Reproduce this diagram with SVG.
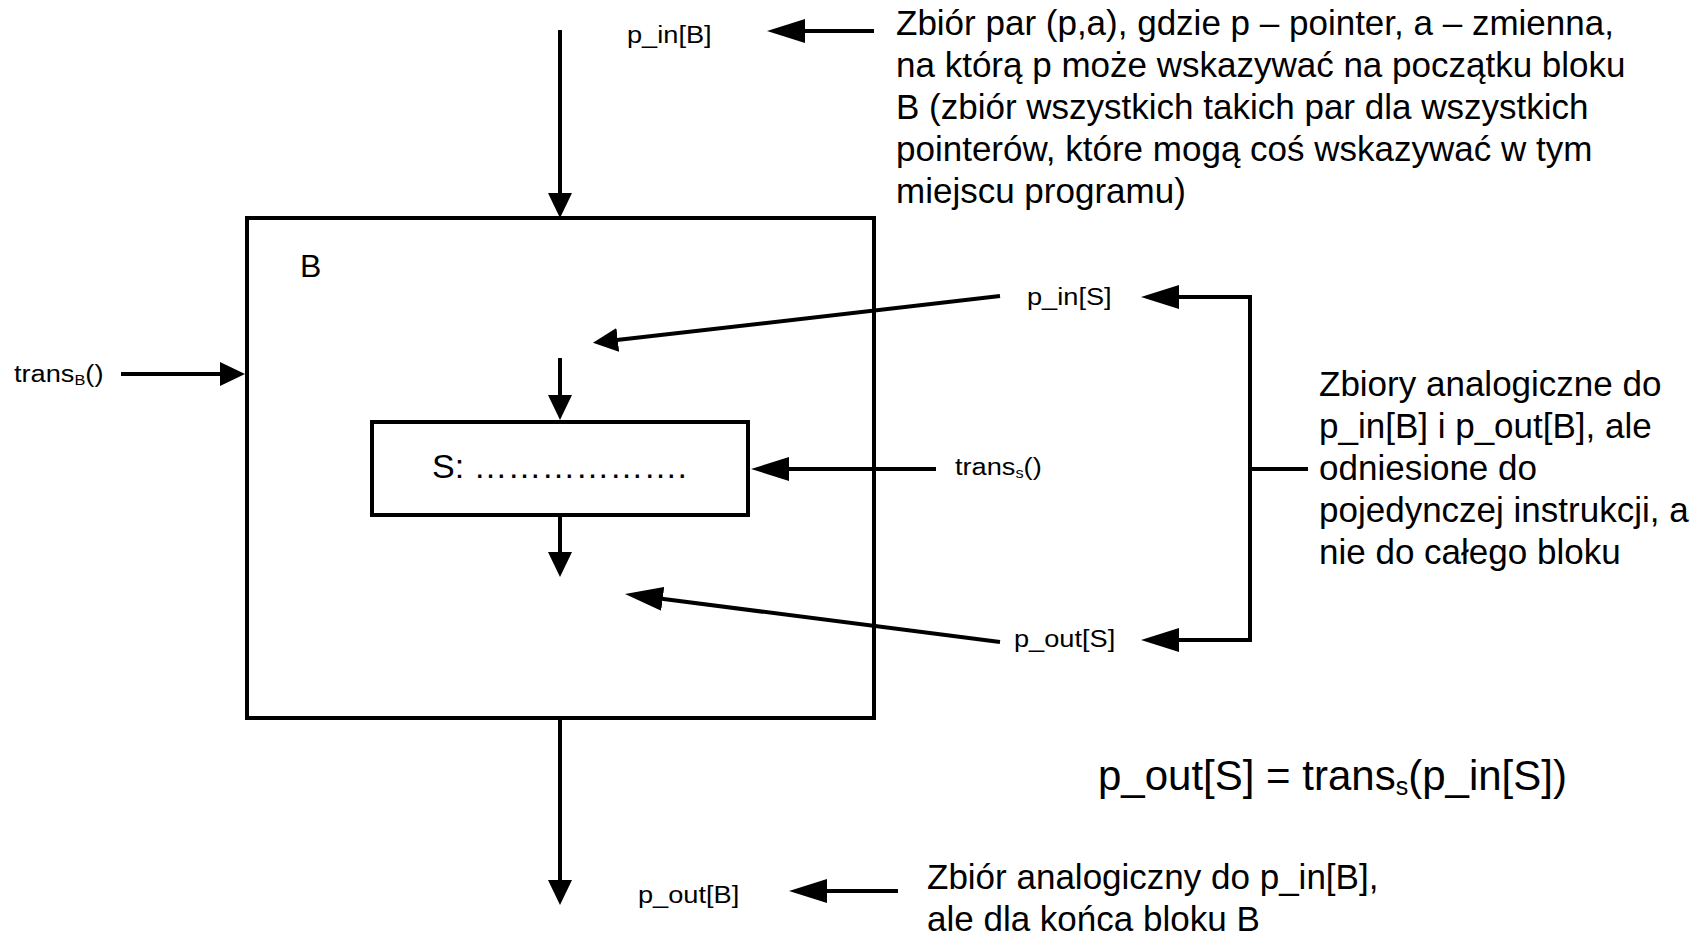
<svg xmlns="http://www.w3.org/2000/svg" width="1701" height="933" viewBox="0 0 1701 933">
  <style>
    text { font-family: "Liberation Sans", Arial, sans-serif; fill: #000; }
    .big { font-size: 35px; }
    .lbl { font-size: 24.5px; }
    .sub { font-size: 14.7px; }
    .eq { font-size: 42px; }
    .box { fill: #fff; stroke: #000; stroke-width: 4; }
    .wire { fill: none; stroke: #000; stroke-width: 4; }
    .head { fill: #000; stroke: none; }
  </style>
  <defs>
    <!-- short filled arrowhead (flow arrows) -->
    <marker id="head-s" markerUnits="userSpaceOnUse" markerWidth="25" markerHeight="24" viewBox="0 0 25 24" refX="1" refY="12" orient="auto-start-reverse">
      <path class="head" d="M0,0 L25,12 L0,24 z"/>
    </marker>
    <!-- long filled arrowhead (annotation arrows) -->
    <marker id="head-l" markerUnits="userSpaceOnUse" markerWidth="38" markerHeight="24" viewBox="0 0 38 24" refX="1" refY="12" orient="auto-start-reverse">
      <path class="head" d="M0,0 L38,12 L0,24 z"/>
    </marker>
  </defs>

  <rect width="1701" height="933" fill="#fff"/>

  <!-- block B -->
  <g id="block-B">
    <rect class="box" x="247" y="218" width="627" height="500"/>
    <text class="big" x="300" y="277" style="font-size:32px">B</text>
  </g>

  <!-- statement S -->
  <g id="stmt-S">
    <rect class="box" x="372" y="422" width="376" height="93"/>
    <text class="big" x="432" y="478" style="font-size:34px">S: ……………….</text>
  </g>

  <!-- connectors -->
  <g id="connectors">
    <path class="wire" d="M560,30 V194" marker-end="url(#head-s)"/>
    <path class="wire" d="M121,374 H221" marker-end="url(#head-s)"/>
    <path class="wire" d="M874,31 H804" marker-end="url(#head-l)"/>
    <path class="wire" d="M1000,296 L616.8,340.1" marker-end="url(#head-s)"/>
    <path class="wire" d="M560,358 V396" marker-end="url(#head-s)"/>
    <path class="wire" d="M936,469 H788" marker-end="url(#head-l)"/>
    <path class="wire" d="M560,515 V553" marker-end="url(#head-s)"/>
    <path class="wire" d="M1000,642 L661.7,598.8" marker-end="url(#head-l)"/>
    <path class="wire" d="M560,718 V881" marker-end="url(#head-s)"/>
    <path class="wire" d="M898,891 H826" marker-end="url(#head-l)"/>
    <path class="wire" d="M1178,297 H1250 V640 H1178" marker-start="url(#head-l)" marker-end="url(#head-l)"/>
    <path class="wire" d="M1250,469 H1308"/>
  </g>

  <!-- small set labels -->
  <g id="label-p-in-B">
    <text class="lbl" transform="translate(627 43) scale(1.11 1)">p_in[B]</text>
  </g>
  <g id="label-trans-B">
    <text class="lbl" transform="translate(14 382) scale(1.11 1)">trans<tspan class="sub" dy="3">B</tspan><tspan dy="-3">()</tspan></text>
  </g>
  <g id="label-p-in-S">
    <text class="lbl" transform="translate(1027 305) scale(1.11 1)">p_in[S]</text>
  </g>
  <g id="label-trans-S">
    <text class="lbl" transform="translate(955 475) scale(1.11 1)">trans<tspan class="sub" dy="3">s</tspan><tspan dy="-3">()</tspan></text>
  </g>
  <g id="label-p-out-S">
    <text class="lbl" transform="translate(1014 647) scale(1.11 1)">p_out[S]</text>
  </g>
  <g id="label-p-out-B">
    <text class="lbl" transform="translate(638 903) scale(1.11 1)">p_out[B]</text>
  </g>

  <!-- descriptions -->
  <g id="note-p-in-B">
    <text class="big" x="896" y="35">Zbiór par (p,a), gdzie p – pointer, a – zmienna,</text>
    <text class="big" x="896" y="77">na którą p może wskazywać na początku bloku</text>
    <text class="big" x="896" y="119">B (zbiór wszystkich takich par dla wszystkich</text>
    <text class="big" x="896" y="161">pointerów, które mogą coś wskazywać w tym</text>
    <text class="big" x="896" y="203">miejscu programu)</text>
  </g>
  <g id="note-S-sets">
    <text class="big" x="1319" y="396">Zbiory analogiczne do</text>
    <text class="big" x="1319" y="438">p_in[B] i p_out[B], ale</text>
    <text class="big" x="1319" y="480">odniesione do</text>
    <text class="big" x="1319" y="522">pojedynczej instrukcji, a</text>
    <text class="big" x="1319" y="564">nie do całego bloku</text>
  </g>
  <g id="equation">
    <text class="eq" x="1098" y="790">p_out[S] = trans<tspan dy="5" style="font-size:25px">s</tspan><tspan dy="-5">(p_in[S])</tspan></text>
  </g>
  <g id="note-p-out-B">
    <text class="big" x="927" y="889">Zbiór analogiczny do p_in[B],</text>
    <text class="big" x="927" y="931">ale dla końca bloku B</text>
  </g>
</svg>
